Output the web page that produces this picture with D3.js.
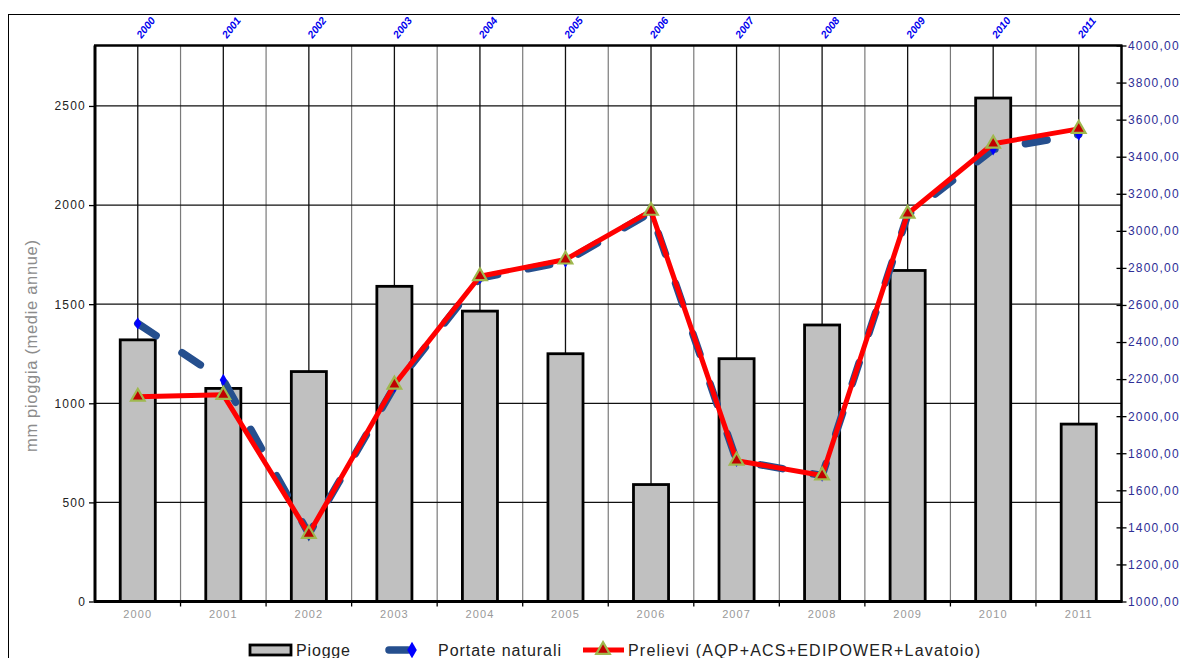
<!DOCTYPE html>
<html>
<head>
<meta charset="utf-8">
<script src="https://cdn.jsdelivr.net/npm/d3@7"></script>
<style>
html,body{margin:0;padding:0;background:#fff;}
svg{display:block;font-family:Arial,"Liberation Sans",sans-serif;}
</style>
</head>
<body>
<svg id="chart" width="1180" height="658"></svg>
<script>
// ---- data ----
const years = ["2000","2001","2002","2003","2004","2005","2006","2007","2008","2009","2010","2011"];
const piogge = [1320, 1075, 1160, 1590, 1465, 1250, 590, 1225, 1395, 1670, 2540, 895];
const portateNaturali = [2500, 2195, 1365, 2160, 2745, 2835, 3100, 1760, 1680, 3085, 3440, 3520];
const prelievi = [2105, 2115, 1365, 2170, 2755, 2845, 3108, 1760, 1680, 3092, 3470, 3550];
const leftTicks = [0, 500, 1000, 1500, 2000, 2500];
const rightTicks = [1000,1200,1400,1600,1800,2000,2200,2400,2600,2800,3000,3200,3400,3600,3800,4000];
const seriesNames = ["Piogge", "Portate naturali", "Prelievi (AQP+ACS+EDIPOWER+Lavatoio)"];
const yTitle = "mm pioggia (medie annue)";

// ---- layout ----
const FONT = "Arial,'Liberation Sans',sans-serif";
const svg = d3.select("#chart");
const L = 95, R = 1121.5, T = 45.5, B = 601.5;

const x = d3.scaleBand().domain(years).range([L, R]).padding(0);
const yL = d3.scaleLinear().domain([0, 2805]).range([B, T]);
const yR = d3.scaleLinear().domain([1000, 4000]).range([B, T]);
const bw = x.bandwidth();
const cx = d => x(d) + bw / 2;

// outer frame
svg.append("rect").attr("x", 8.5).attr("y", 14.5).attr("width", 1200).attr("height", 700)
  .attr("fill", "none").attr("stroke", "#000").attr("stroke-width", 1);

// plot background
svg.append("rect").attr("x", L).attr("y", T).attr("width", R - L).attr("height", B - T).attr("fill", "#fff");

// vertical gridlines: category boundaries (gray) and centers (black)
const grid = svg.append("g");
years.forEach((d, i) => {
  if (i > 0) grid.append("line").attr("x1", x(d)).attr("x2", x(d)).attr("y1", T).attr("y2", B)
    .attr("stroke", "#7a7a7a").attr("stroke-width", 1.2);
  grid.append("line").attr("x1", cx(d)).attr("x2", cx(d)).attr("y1", T).attr("y2", B)
    .attr("stroke", "#111").attr("stroke-width", 1.3);
});
// horizontal gridlines
leftTicks.filter(v => v > 0).forEach(v => {
  grid.append("line").attr("x1", L).attr("x2", R).attr("y1", yL(v)).attr("y2", yL(v))
    .attr("stroke", "#111").attr("stroke-width", 1.2);
});

// bars
const barW = bw * 0.41;
svg.append("g").selectAll("rect").data(years).join("rect")
  .attr("x", d => cx(d) - barW / 2)
  .attr("y", (d, i) => yL(piogge[i]))
  .attr("width", barW)
  .attr("height", (d, i) => B - yL(piogge[i]))
  .attr("fill", "#c0c0c0").attr("stroke", "#000").attr("stroke-width", 2.8);

// plot border
svg.append("line").attr("x1", L - 1).attr("x2", R + 1).attr("y1", T).attr("y2", T).attr("stroke", "#000").attr("stroke-width", 2.5);

// left axis
const axL = svg.append("g").attr("transform", `translate(${L},0)`)
  .call(d3.axisLeft(yL).tickValues(leftTicks).tickSize(6).tickPadding(3).tickFormat(d3.format("d")));
axL.select(".domain").attr("stroke", "#000").attr("stroke-width", 3).attr("d", `M0,${T}V${B}`);
axL.selectAll(".tick line").attr("stroke", "#000").attr("stroke-width", 1.3);
axL.selectAll(".tick text").attr("font-size", 12).attr("letter-spacing", 1.2).attr("fill", "#222").attr("font-family", FONT);

// right axis
const axR = svg.append("g").attr("transform", `translate(${R},0)`)
  .call(d3.axisRight(yR).tickValues(rightTicks).tickSize(5).tickPadding(1.5)
    .tickFormat(d => d.toFixed(2).replace(".", ",")));
axR.select(".domain").attr("stroke", "#000").attr("stroke-width", 2.5).attr("d", `M0,${T}V${B}`);
axR.selectAll(".tick line").attr("x1", -5).attr("stroke", "#000").attr("stroke-width", 1.3);
axR.selectAll(".tick text").attr("font-size", 12).attr("letter-spacing", 1.2).attr("fill", "#2e2e96").attr("font-family", FONT);

// bottom axis
const axB = svg.append("g").attr("transform", `translate(0,${B})`)
  .call(d3.axisBottom(x).tickSize(0).tickPadding(9));
axB.select(".domain").attr("stroke", "#000").attr("stroke-width", 3).attr("d", `M${L - 1},0H${R + 1}`);
axB.selectAll(".tick text").attr("font-size", 11).attr("letter-spacing", 1.1).attr("fill", "#999").attr("font-family", FONT);
years.forEach((d, i) => {
  if (i > 0) axB.append("line").attr("x1", x(d)).attr("x2", x(d)).attr("y1", 0).attr("y2", 5)
    .attr("stroke", "#000").attr("stroke-width", 1.3);
});

// top axis (secondary category labels), rotated
const topG = svg.append("g").selectAll("g").data(years).join("g")
  .attr("transform", d => `translate(${cx(d) + 8},${T - 18})`);
topG.append("text")
  .attr("transform", "rotate(-52)")
  .attr("text-anchor", "middle").attr("dy", "0.35em")
  .attr("font-size", 10.5).attr("font-weight", "bold").attr("font-style", "italic")
  .attr("fill", "#0000ee").attr("font-family", FONT)
  .text(d => d);

// y title
svg.append("text").attr("transform", "translate(37,346) rotate(-90)")
  .attr("text-anchor", "middle").attr("font-size", 16.5).attr("fill", "#8c8c8c")
  .attr("textLength", 212).attr("lengthAdjust", "spacing")
  .text(yTitle);

// Portate naturali (dashed blue)
const lineB = d3.line().x((d, i) => cx(years[i])).y(d => yR(d));
svg.append("path").datum(portateNaturali).attr("d", lineB)
  .attr("fill", "none").attr("stroke", "#254f8e").attr("stroke-width", 7.5)
  .attr("stroke-linecap", "round").attr("stroke-dasharray", "22,31");
const diamond = d3.symbol().type(d3.symbolDiamond).size(45);
svg.append("g").selectAll("path").data(portateNaturali).join("path")
  .attr("d", diamond).attr("transform", (d, i) => `translate(${cx(years[i])},${yR(d)})`)
  .attr("fill", "#0000ff");

// Prelievi (red)
svg.append("path").datum(prelievi).attr("d", lineB)
  .attr("fill", "none").attr("stroke", "#ff0000").attr("stroke-width", 5).attr("stroke-linejoin", "round");
const tri = d3.symbol().type(d3.symbolTriangle).size(80);
svg.append("g").selectAll("path").data(prelievi).join("path")
  .attr("d", tri).attr("transform", (d, i) => `translate(${cx(years[i])},${yR(d)})`)
  .attr("fill", "#c00000").attr("stroke", "#9fb84e").attr("stroke-width", 2.2);

// legend
const lg = svg.append("g").attr("font-size", 16).attr("fill", "#222");
const ly = 650;
lg.append("rect").attr("x", 250).attr("y", ly - 5).attr("width", 41).attr("height", 10)
  .attr("fill", "#c0c0c0").attr("stroke", "#000").attr("stroke-width", 2.8);
lg.append("text").attr("x", 296).attr("y", ly + 6).attr("textLength", 54).attr("lengthAdjust", "spacing").text(seriesNames[0]);
lg.append("line").attr("x1", 389).attr("x2", 408).attr("y1", ly).attr("y2", ly)
  .attr("stroke", "#254f8e").attr("stroke-width", 7.5).attr("stroke-linecap", "round");
lg.append("path").attr("d", d3.symbol().type(d3.symbolDiamond).size(80)).attr("transform", `translate(412,${ly})`).attr("fill", "#0000ff");
lg.append("text").attr("x", 438).attr("y", ly + 6).attr("textLength", 123).attr("lengthAdjust", "spacing").text(seriesNames[1]);
lg.append("line").attr("x1", 583).attr("x2", 624).attr("y1", ly).attr("y2", ly)
  .attr("stroke", "#ff0000").attr("stroke-width", 5);
lg.append("path").attr("d", tri).attr("transform", `translate(603,${ly})`)
  .attr("fill", "#c00000").attr("stroke", "#9fb84e").attr("stroke-width", 2.2);
lg.append("text").attr("x", 628).attr("y", ly + 6).attr("textLength", 352).attr("lengthAdjust", "spacing").text(seriesNames[2]);
</script>
</body>
</html>
